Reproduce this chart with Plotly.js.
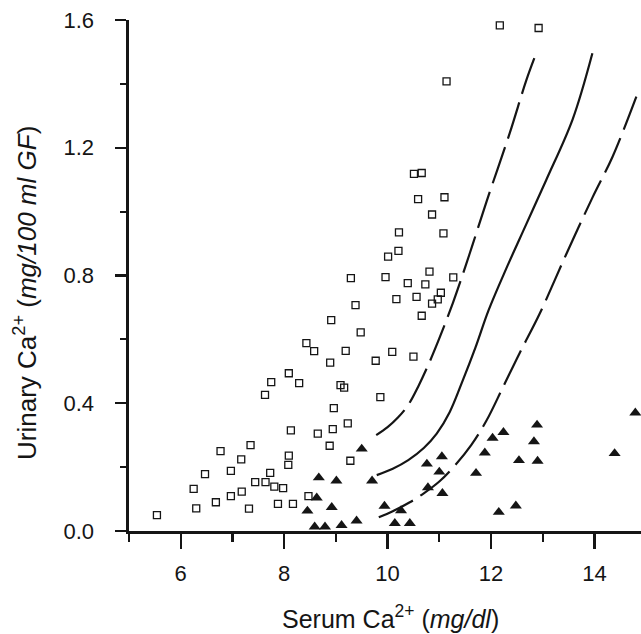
<!DOCTYPE html>
<html>
<head>
<meta charset="utf-8">
<script src="https://cdn.plot.ly/plotly-3.0.1.min.js"></script>
<style>
  html, body { margin: 0; padding: 0; background: #fff; }
  #chart { width: 641px; height: 634px; }
</style>
</head>
<body>
<div id="chart"></div>
<script>
// Open squares
const squareX = [5.54, 6.25, 6.30, 6.47, 6.68, 6.77, 6.97, 6.97, 7.17, 7.18, 7.32, 7.35, 7.44, 7.64, 7.73, 7.81, 7.88, 7.98, 8.08, 8.09, 8.17, 8.47, 8.13, 7.63, 7.75, 8.09, 8.29, 8.43, 8.58, 8.65, 8.88, 8.94, 8.96, 9.09, 9.16, 9.23, 9.28, 8.89, 9.19, 9.48, 8.91, 9.38, 9.29, 9.96, 10.01, 10.21, 10.22, 10.39, 10.17, 10.56, 10.73, 10.81, 10.86, 10.97, 11.03, 11.27, 11.08, 10.86, 10.59, 11.10, 10.51, 10.66, 11.14, 12.17, 12.92, 10.66, 10.09, 9.77, 10.50, 9.86];
const squareY = [0.050, 0.132, 0.071, 0.178, 0.090, 0.250, 0.188, 0.109, 0.224, 0.123, 0.070, 0.269, 0.153, 0.153, 0.182, 0.139, 0.085, 0.134, 0.207, 0.236, 0.085, 0.109, 0.315, 0.426, 0.466, 0.494, 0.463, 0.588, 0.563, 0.305, 0.267, 0.319, 0.385, 0.457, 0.449, 0.337, 0.220, 0.527, 0.564, 0.622, 0.660, 0.707, 0.792, 0.795, 0.859, 0.877, 0.935, 0.776, 0.726, 0.733, 0.772, 0.812, 0.712, 0.725, 0.746, 0.794, 0.932, 0.991, 1.039, 1.045, 1.118, 1.121, 1.408, 1.583, 1.575, 0.674, 0.561, 0.533, 0.546, 0.419];

// Filled triangles
const triX = [8.45, 8.59, 8.63, 8.67, 8.79, 8.92, 9.01, 9.11, 9.40, 9.50, 9.70, 9.94, 10.14, 10.26, 10.43, 10.76, 10.78, 11.00, 11.05, 11.06, 11.71, 11.88, 12.03, 12.24, 12.15, 12.48, 12.54, 12.83, 12.89, 12.90, 14.39, 14.79];
const triY = [0.063, 0.013, 0.104, 0.167, 0.013, 0.074, 0.157, 0.018, 0.032, 0.257, 0.157, 0.078, 0.024, 0.064, 0.024, 0.210, 0.136, 0.185, 0.233, 0.118, 0.181, 0.245, 0.291, 0.309, 0.059, 0.079, 0.221, 0.280, 0.332, 0.219, 0.243, 0.370];

// Curves (upper dashed, middle solid, lower dashed)
const upperX = [9.78, 10.00, 10.20, 10.40, 10.60, 10.80, 11.00, 11.26, 11.58, 11.91, 12.36, 12.68, 12.86];
const upperY = [0.300, 0.325, 0.355, 0.395, 0.455, 0.525, 0.603, 0.713, 0.865, 1.030, 1.245, 1.410, 1.490];
const middleX = [9.79, 10.10, 10.40, 10.70, 10.95, 11.20, 11.45, 11.70, 11.95, 12.29, 12.68, 13.07, 13.58, 13.96];
const middleY = [0.175, 0.195, 0.222, 0.260, 0.305, 0.372, 0.470, 0.575, 0.690, 0.820, 0.960, 1.100, 1.290, 1.496];
const lowerX = [9.83, 10.10, 10.43, 10.70, 11.00, 11.30, 11.62, 11.91, 12.23, 12.55, 12.94, 13.45, 13.97, 14.35, 14.81];
const lowerY = [0.043, 0.062, 0.090, 0.118, 0.155, 0.205, 0.270, 0.345, 0.450, 0.556, 0.680, 0.865, 1.047, 1.172, 1.360];

const xTicks = [6, 8, 10, 12, 14];
const yTicks = [0.0, 0.4, 0.8, 1.2, 1.6];
const yTickText = ['0.0', '0.4', '0.8', '1.2', '1.6'];
const xTitle = 'Serum Ca<sup>2+</sup> (<i>mg/dl</i>)';
const yTitle = 'Urinary Ca<sup>2+</sup> (<i>mg/100 ml GF</i>)';

const ink = '#151515';
const fontFam = '"Liberation Sans", Arial, Helvetica, sans-serif';

const lineStyle = (dash) => ({ color: ink, width: 2.2, dash: dash, shape: 'spline', smoothing: 1 });

const traces = [
  { x: upperX, y: upperY, mode: 'lines', line: lineStyle('38px,9px'), hoverinfo: 'skip', showlegend: false },
  { x: middleX, y: middleY, mode: 'lines', line: lineStyle('solid'), hoverinfo: 'skip', showlegend: false },
  { x: lowerX, y: lowerY, mode: 'lines', line: lineStyle('38px,9px'), hoverinfo: 'skip', showlegend: false },
  { x: squareX, y: squareY, mode: 'markers', cliponaxis: false, showlegend: false,
    marker: { symbol: 'square-open', size: 7, color: ink, line: { width: 1.3, color: ink } } },
  { x: triX, y: triY, mode: 'markers', cliponaxis: false, showlegend: false,
    marker: { symbol: 'triangle-up', size: 10.5, color: ink, line: { width: 0 } } }
];

const layout = {
  width: 641, height: 634,
  margin: { l: 129, r: 0, t: 20, b: 103, pad: 0 },
  paper_bgcolor: '#fff', plot_bgcolor: '#fff',
  font: { family: fontFam, color: ink },
  showlegend: false,
  xaxis: {
    range: [5, 14.9], showgrid: false, zeroline: false,
    showline: true, linecolor: ink, linewidth: 2.6,
    ticks: 'outside', ticklen: 15, tickwidth: 2.4, tickcolor: ink,
    tickmode: 'array', tickvals: xTicks, ticktext: xTicks.map(String),
    minor: { dtick: 1, tick0: 5, ticks: 'outside', ticklen: 8, tickwidth: 2.2, tickcolor: ink, showgrid: false },
    tickfont: { size: 22, family: fontFam, color: ink },
    ticklabelstandoff: 6,
    fixedrange: true
  },
  yaxis: {
    range: [0, 1.6], showgrid: false, zeroline: false,
    showline: true, linecolor: ink, linewidth: 2.6,
    ticks: 'outside', ticklen: 11, tickwidth: 2.4, tickcolor: ink,
    tickmode: 'array', tickvals: yTicks, ticktext: yTickText,
    minor: { dtick: 0.2, tick0: 0, ticks: 'outside', ticklen: 6, tickwidth: 2.2, tickcolor: ink, showgrid: false },
    tickfont: { size: 22, family: fontFam, color: ink },
    ticklabelstandoff: 17,
    fixedrange: true
  },
  annotations: [
    { text: xTitle, xref: 'paper', yref: 'paper', x: 0.5098, y: -0.168,
      xanchor: 'center', yanchor: 'middle', showarrow: false,
      font: { size: 25, family: fontFam, color: ink } },
    { text: yTitle, xref: 'paper', yref: 'paper', x: -0.2012, y: 0.4658,
      xanchor: 'center', yanchor: 'middle', showarrow: false, textangle: -90,
      font: { size: 26, family: fontFam, color: ink } }
  ]
};

Plotly.newPlot('chart', traces, layout, { displayModeBar: false, staticPlot: true });
</script>
</body>
</html>
